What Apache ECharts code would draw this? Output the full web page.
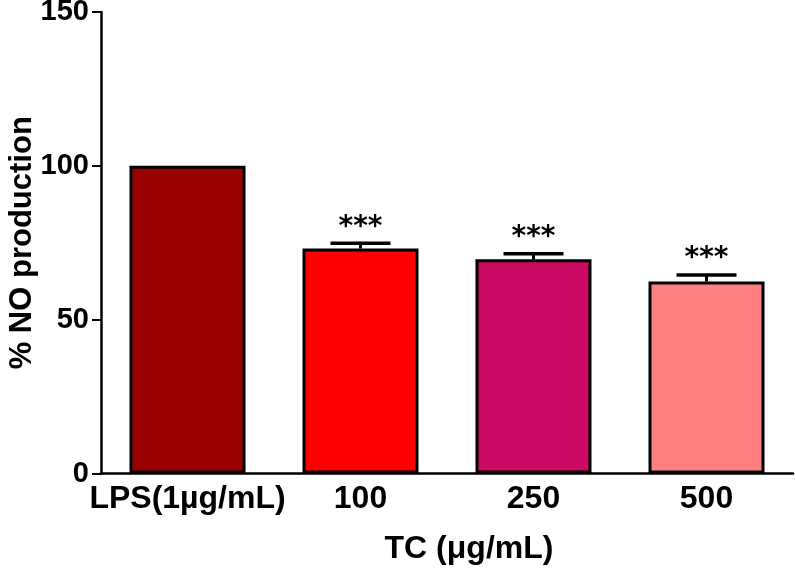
<!DOCTYPE html>
<html>
<head>
<meta charset="utf-8">
<script src="https://cdn.jsdelivr.net/npm/echarts@6/dist/echarts.min.js"></script>
<style>html,body{margin:0;padding:0;background:#fff}#c{width:795px;height:568px}</style>
</head>
<body>
<div id="c"></div>
<script>
var categories = ['LPS(1\u00b5g/mL)', '100', '250', '500'];
var values = [100, 73.1, 69.6, 62.4];
var errors = [0, 1.7, 1.8, 2.1];
var stars = ['', '***', '***', '***'];
var colors = ['#990000', '#FF0000', '#CC0A63', '#FF8080'];
var yTicks = [0, 50, 100, 150];

var chart = echarts.init(document.getElementById('c'));
var FONT = "'Liberation Sans', Arial, sans-serif";

chart.setOption({
  animation: false,
  grid: { left: 101, right: 2, top: 12, bottom: 94.5, containLabel: false, outerBoundsMode: 'none' },
  xAxis: {
    type: 'category',
    data: categories,
    axisLine: { lineStyle: { color: '#000', width: 2.5 } },
    axisTick: { alignWithLabel: true, length: 8, lineStyle: { color: '#000', width: 2 } },
    axisLabel: { interval: 0, hideOverlap: false, color: '#000', fontSize: 32, fontWeight: 'bold', fontFamily: FONT, margin: 10 }
  },
  yAxis: {
    type: 'value',
    min: yTicks[0], max: yTicks[yTicks.length - 1], interval: 50,
    name: '% NO production',
    nameLocation: 'middle',
    nameGap: 63,
    nameMoveOverlap: false,
    nameRotate: 90,
    nameTextStyle: { color: '#000', fontSize: 31, fontWeight: 'bold', fontFamily: FONT },
    splitLine: { show: false },
    axisLine: { show: true, lineStyle: { color: '#000', width: 2.5 } },
    axisTick: { show: true, length: 9, lineStyle: { color: '#000', width: 2 } },
    axisLabel: { color: '#000', fontSize: 29, fontWeight: 'bold', fontFamily: FONT, margin: 12 }
  },
  graphic: [{
    type: 'text',
    x: 469, y: 549,
    style: { text: 'TC (\u03bcg/mL)', fill: '#000', font: "bold 32px 'Liberation Sans', Arial, sans-serif", align: 'center', verticalAlign: 'middle' }
  }],
  series: [{
    type: 'bar',
    barWidth: 116,
    data: values.map(function (v, i) {
      return { value: v, itemStyle: { color: colors[i], borderColor: '#000', borderWidth: 3 } };
    }),
    z: 2
  }, {
    type: 'custom',
    z: 3,
    data: values.map(function (v, i) { return [i, v, errors[i]]; }),
    renderItem: function (params, api) {
      var i = api.value(0), v = api.value(1), e = api.value(2);
      var idx = params.dataIndex;
      if (!e) return null;
      var base = api.coord([i, v]);
      var top = api.coord([i, v + e]);
      var half = 30;
      return {
        type: 'group',
        children: [
          { type: 'line', shape: { x1: base[0], y1: base[1], x2: top[0], y2: top[1] }, style: { stroke: '#000', lineWidth: 3 } },
          { type: 'line', shape: { x1: top[0] - half, y1: top[1], x2: top[0] + half, y2: top[1] }, style: { stroke: '#000', lineWidth: 3.5 } },
          { type: 'text', x: top[0], y: top[1] - 16, style: { text: stars[idx], fill: '#000', font: "bold 28px 'DejaVu Sans', sans-serif", align: 'center', verticalAlign: 'middle' } }
        ]
      };
    }
  }]
});
</script>
</body>
</html>
